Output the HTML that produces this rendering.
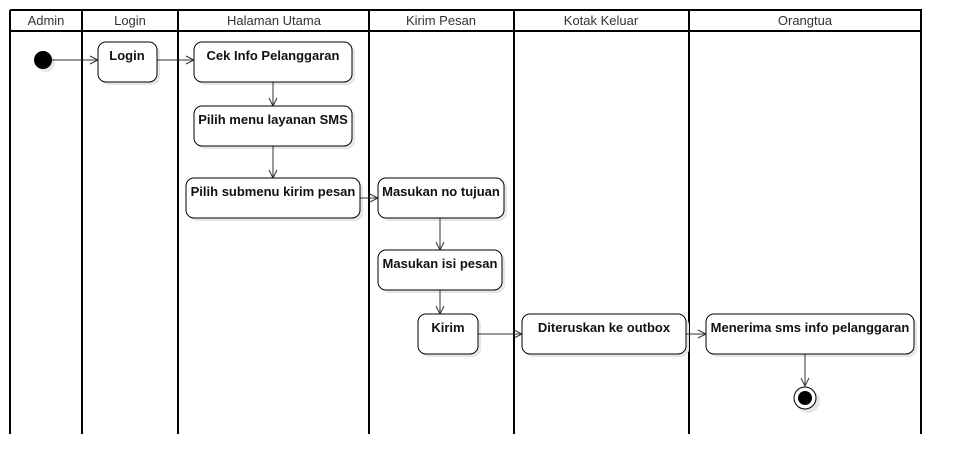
<!DOCTYPE html>
<html><head><meta charset="utf-8"><style>
html,body{margin:0;padding:0;background:#fff;}
svg{display:block;}
text{font-family:"Liberation Sans",Arial,sans-serif;}
.h{font-size:13px;fill:#333;text-anchor:middle;}
.n{font-size:13px;font-weight:bold;fill:#111;text-anchor:middle;}
</style></head><body>
<svg width="962" height="474" viewBox="0 0 962 474" xmlns="http://www.w3.org/2000/svg">
<defs>
<marker id="a" markerWidth="10" markerHeight="10" refX="9" refY="5" orient="auto" markerUnits="userSpaceOnUse">
<path d="M1,1 L9,5 L1,9" fill="none" stroke="#333" stroke-width="1"/>
</marker>
</defs>
<g stroke="#000" stroke-width="2" fill="none">
<line x1="10" y1="10" x2="922" y2="10"/>
<line x1="10" y1="31" x2="922" y2="31"/>
<line x1="10" y1="10" x2="10" y2="434"/>
<line x1="82" y1="10" x2="82" y2="434"/>
<line x1="178" y1="10" x2="178" y2="434"/>
<line x1="369" y1="10" x2="369" y2="434"/>
<line x1="514" y1="10" x2="514" y2="434"/>
<line x1="689" y1="10" x2="689" y2="434"/>
<line x1="921" y1="10" x2="921" y2="434"/>
</g>
<text class="h" x="46" y="25">Admin</text>
<text class="h" x="130" y="25">Login</text>
<text class="h" x="274" y="25">Halaman Utama</text>
<text class="h" x="441" y="25">Kirim Pesan</text>
<text class="h" x="601" y="25">Kotak Keluar</text>
<text class="h" x="805" y="25">Orangtua</text>
<g fill="#e6e6e6">
<circle cx="46" cy="63" r="9"/>
<rect x="101" y="45" width="59" height="40" rx="8"/>
<rect x="197" y="45" width="158" height="40" rx="8"/>
<rect x="197" y="109" width="158" height="40" rx="8"/>
<rect x="189" y="181" width="174" height="40" rx="8"/>
<rect x="381" y="181" width="126" height="40" rx="8"/>
<rect x="381" y="253" width="124" height="40" rx="8"/>
<rect x="421" y="317" width="60" height="40" rx="8"/>
<rect x="525" y="317" width="164" height="40" rx="8"/>
<rect x="709" y="317" width="208" height="40" rx="8"/>
<circle cx="808" cy="401" r="12"/>
</g>
<g stroke="#333" stroke-width="1" fill="none" marker-end="url(#a)">
<line x1="52" y1="60" x2="98" y2="60"/>
<line x1="157" y1="60" x2="194" y2="60"/>
<line x1="273" y1="82" x2="273" y2="106"/>
<line x1="273" y1="146" x2="273" y2="178"/>
<line x1="360" y1="198" x2="378" y2="198"/>
<line x1="440" y1="218" x2="440" y2="250"/>
<line x1="440" y1="290" x2="440" y2="314"/>
<line x1="478" y1="334" x2="522" y2="334"/>
<line x1="686" y1="334" x2="706" y2="334"/>
<line x1="805" y1="354" x2="805" y2="386"/>
</g>
<g fill="#fff" stroke="#000" stroke-width="1">
<rect x="98" y="42" width="59" height="40" rx="8"/>
<rect x="194" y="42" width="158" height="40" rx="8"/>
<rect x="194" y="106" width="158" height="40" rx="8"/>
<rect x="186" y="178" width="174" height="40" rx="8"/>
<rect x="378" y="178" width="126" height="40" rx="8"/>
<rect x="378" y="250" width="124" height="40" rx="8"/>
<rect x="418" y="314" width="60" height="40" rx="8"/>
<rect x="522" y="314" width="164" height="40" rx="8"/>
<rect x="706" y="314" width="208" height="40" rx="8"/>
<circle cx="805" cy="398" r="11"/>
</g>
<circle cx="43" cy="60" r="9" fill="#000"/>
<circle cx="805" cy="398" r="7" fill="#000"/>
<text class="n" x="127" y="60">Login</text>
<text class="n" x="273" y="60">Cek Info Pelanggaran</text>
<text class="n" x="273" y="124">Pilih menu layanan SMS</text>
<text class="n" x="273" y="196">Pilih submenu kirim pesan</text>
<text class="n" x="441" y="196">Masukan no tujuan</text>
<text class="n" x="440" y="268">Masukan isi pesan</text>
<text class="n" x="448" y="332">Kirim</text>
<text class="n" x="604" y="332">Diteruskan ke outbox</text>
<text class="n" x="810" y="332">Menerima sms info pelanggaran</text>
</svg>
</body></html>
